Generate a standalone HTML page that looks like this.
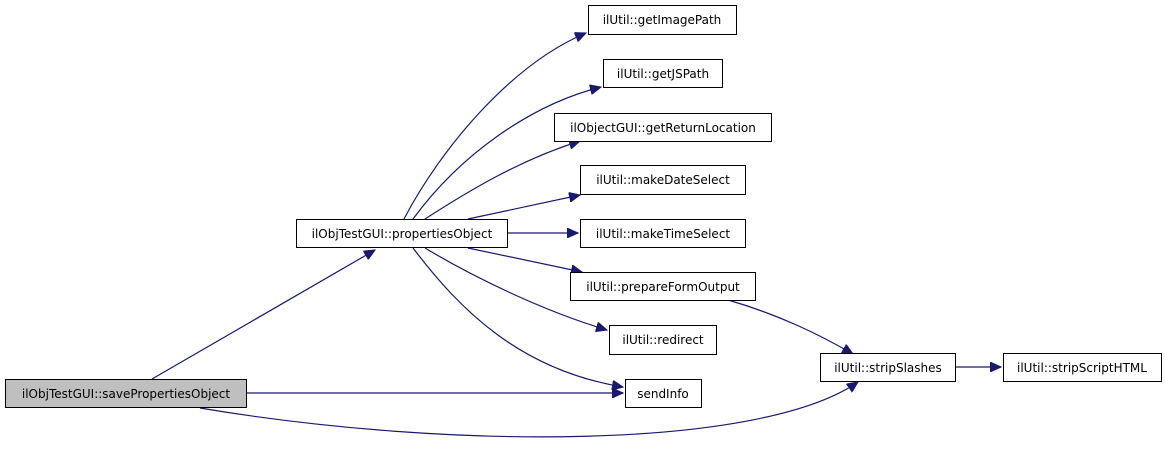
<!DOCTYPE html>
<html><head><meta charset="utf-8"><style>
body{margin:0;background:#fff;width:1165px;height:447px;overflow:hidden}
svg text{font-family:"DejaVu Sans","Liberation Sans",sans-serif;font-size:12px;fill:#000}
</style></head><body>
<svg width="1165" height="447" viewBox="0 0 1165 447" xmlns="http://www.w3.org/2000/svg">
<defs><marker id="a" markerUnits="userSpaceOnUse" markerWidth="12" markerHeight="10" refX="11" refY="5" orient="auto"><path d="M0,0 L11,5 L0,10 Z" fill="#191970" stroke="#191970"/></marker></defs>
<g fill="none" stroke="#191970" stroke-width="1.2" marker-end="url(#a)">
<path d="M404,219 C440,150 510,65 586,33"/>
<path d="M413,219 C460,155 530,105 601,87"/>
<path d="M425,219 C470,190 520,160 580,141"/>
<path d="M468,219 L580,195"/>
<path d="M508,233 L578,233"/>
<path d="M468,248 L582,272"/>
<path d="M425,248 C470,275 540,310 607,330"/>
<path d="M413,248 C460,310 520,370 623,387"/>
<path d="M152,379 L375,250"/>
<path d="M247,393 L623,393"/>
<path d="M200,408 C450,450 760,450 858,382"/>
<path d="M728,300 C780,315 820,335 853,354"/>
<path d="M955,367 L1001,367"/>
</g>
<g stroke="#000" stroke-width="1" fill="#fff">
<rect x="5.5" y="379.5" width="241" height="28" fill="#bfbfbf"/>
<rect x="296.5" y="219.5" width="211" height="28"/>
<rect x="588.5" y="5.5" width="148" height="29"/>
<rect x="603.5" y="59.5" width="119" height="28"/>
<rect x="554.5" y="113.5" width="217" height="28"/>
<rect x="580.5" y="165.5" width="165" height="29"/>
<rect x="580.5" y="219.5" width="165" height="28"/>
<rect x="570.5" y="272.5" width="185" height="28"/>
<rect x="609.5" y="325.5" width="107" height="29"/>
<rect x="625.5" y="379.5" width="76" height="28"/>
<rect x="820.5" y="353.5" width="135" height="28"/>
<rect x="1003.5" y="353.5" width="158" height="28"/>
</g>
<g text-anchor="middle">
<text x="126" y="398">ilObjTestGUI::savePropertiesObject</text>
<text x="402" y="238">ilObjTestGUI::propertiesObject</text>
<text x="662" y="24">ilUtil::getImagePath</text>
<text x="663" y="78">ilUtil::getJSPath</text>
<text x="663" y="132">ilObjectGUI::getReturnLocation</text>
<text x="663" y="184">ilUtil::makeDateSelect</text>
<text x="663" y="238">ilUtil::makeTimeSelect</text>
<text x="663" y="291">ilUtil::prepareFormOutput</text>
<text x="663" y="344">ilUtil::redirect</text>
<text x="663" y="398">sendInfo</text>
<text x="888" y="372">ilUtil::stripSlashes</text>
<text x="1082" y="372">ilUtil::stripScriptHTML</text>
</g>
</svg>
</body></html>
